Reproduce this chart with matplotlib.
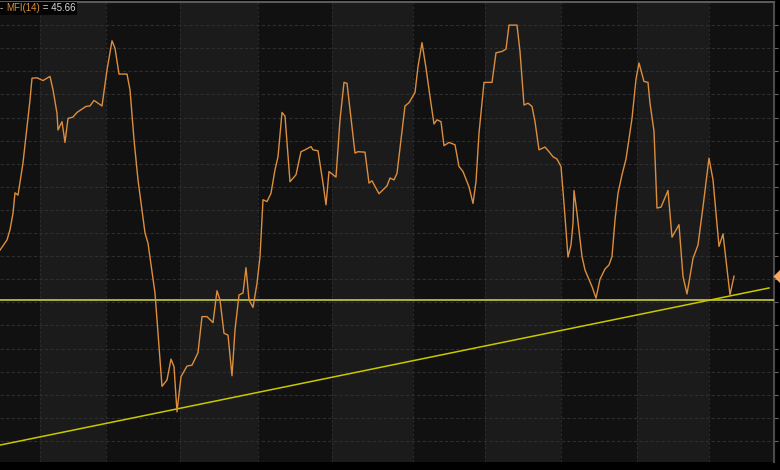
import numpy as np
import matplotlib.pyplot as plt
import matplotlib.transforms as mtransforms

# MFI(14) 走势，x 为交易日位置（无刻度标签）
t = [0, 7, 10, 13, 15, 18, 23, 27, 30, 32, 37, 43, 50, 53, 57, 58, 62, 65, 68, 73,
     77, 86, 90, 94, 102, 107, 112, 115, 119, 127, 130, 134, 138, 145, 148, 155, 162, 167,
     171, 174, 177, 181, 187, 192, 198, 202, 207, 213, 217, 220, 224, 228, 232, 235, 239,
     243, 246, 249, 253, 257, 260, 263, 267, 271, 275, 278, 282, 285, 290, 296, 301, 305,
     311, 313, 318, 323, 326, 329, 336, 340, 344, 347, 355, 358, 365, 369, 372, 379, 387,
     390, 394, 397, 401, 405, 409, 415, 418, 422, 426, 430, 434, 437, 441, 444, 449, 455,
     459, 463, 469, 473, 476, 479, 484, 492, 496, 502, 506, 509, 517, 520, 524, 528, 532,
     535, 539, 545, 549, 553, 557, 561, 564, 568, 571, 573, 574, 577, 582, 585, 592, 596,
     600, 605, 609, 612, 615, 618, 622, 626, 632, 636, 639, 644, 648, 650, 654, 657, 661,
     668, 672, 679, 683, 687, 693, 698, 703, 709, 713, 719, 723, 730, 734]
mfi = [51.3, 53.5, 55.7, 59.3, 63.7, 63.2, 70.2, 78.0, 83.8, 88.5, 88.6, 88.0, 88.9, 86.0,
       80.9, 77.3, 79.1, 74.6, 79.8, 80.1, 81.1, 82.4, 82.5, 83.7, 82.5, 90.3, 96.6, 95.0,
       89.4, 89.4, 86.0, 75.2, 66.5, 55.0, 52.8, 42.0, 21.8, 23.2, 27.7, 26.1, 16.3, 23.9,
       26.2, 26.4, 29.1, 36.9, 36.9, 35.6, 42.5, 40.5, 33.3, 32.9, 24.1, 34.0, 41.6, 42.0,
       47.5, 40.5, 38.9, 44.1, 49.9, 62.2, 61.8, 63.6, 68.7, 71.5, 81.1, 80.3, 66.1, 67.6,
       72.6, 73.0, 73.7, 73.0, 72.8, 65.8, 61.1, 68.3, 67.1, 79.5, 87.6, 87.4, 72.3, 72.6,
       72.5, 65.8, 66.3, 63.5, 65.2, 66.9, 66.5, 67.9, 75.2, 82.5, 83.2, 85.4, 91.0, 96.2,
       90.7, 84.5, 78.6, 79.5, 79.1, 73.9, 74.6, 74.1, 69.4, 68.3, 65.0, 61.4, 66.1, 76.6,
       87.6, 87.6, 94.0, 94.3, 94.8, 100.0, 100.0, 94.3, 82.7, 83.1, 82.4, 79.1, 73.0, 73.6,
       72.6, 71.5, 71.0, 69.4, 61.4, 49.8, 52.4, 57.1, 64.2, 59.3, 49.9, 47.0, 43.4, 40.9,
       45.0, 47.2, 48.1, 49.9, 57.8, 63.6, 67.6, 71.0, 79.8, 88.3, 91.8, 87.8, 87.6, 83.1,
       77.0, 60.4, 60.6, 64.2, 54.1, 56.8, 45.6, 41.8, 49.5, 52.4, 60.7, 71.2, 66.5, 52.1,
       54.8, 41.6, 45.66]
last_value = 45.66

month_edges = [0, 40, 106, 180, 258, 332, 413, 485, 561, 637, 709, 774]
grid_levels = list(range(10, 101, 5))
hline_level = 40.6
trend_t = [0, 769]
trend_v = [9.1, 43.1]

fig = plt.figure(figsize=(7.8, 4.7), dpi=100, facecolor='black')
ax = fig.add_axes([0, 8.3 / 470, 774 / 780, 459.7 / 470])
ax.set_facecolor('#111111')
ax.set_xlim(0, 774)
ax.set_ylim(5.5, 105)

# 交替的月份背景
for i in range(len(month_edges) - 1):
    if i % 2 == 1:
        ax.axvspan(month_edges[i], month_edges[i + 1], color='#1b1b1b', lw=0, zorder=0)
    if i > 0:
        ax.axvline(month_edges[i], color='#2c2c2c', lw=0.8, ls=(0, (2, 2)), zorder=1)

for g in grid_levels:
    ax.axhline(g, color='#2e2e2e', lw=0.8, ls=(0, (3, 2)), zorder=1)

ax.plot(t, mfi, color='#dc8e3e', lw=1.0, zorder=4)
ax.axhline(hline_level, color='#d8d84a', lw=1.1, zorder=3)
ax.plot(trend_t, trend_v, color='#c8c800', lw=1.1, zorder=3)

# 坐标轴样式
for s in ['left', 'bottom']:
    ax.spines[s].set_visible(False)
ax.spines['top'].set_color('#5a5a5a')
ax.spines['top'].set_linewidth(1.5)
ax.spines['right'].set_color('#4a4a4a')
ax.spines['right'].set_linewidth(1.5)
ax.set_xticks([])
ax.yaxis.tick_right()
ax.set_yticks(grid_levels)
ax.set_yticklabels([])
ax.tick_params(axis='y', length=3, width=0.8, color='#6a6a6a', direction='out')

# 右侧当前值标记
trans = mtransforms.blended_transform_factory(ax.transAxes, ax.transData)
ax.plot([1.013], [last_value], marker='D', ms=11, color='#f4a860', mec='none',
        transform=trans, clip_on=False, zorder=6)

# 左上角标签（依次拼接；中间一段最后画，避免背景盖住字）
txt_family = ['Liberation Sans Narrow', 'Liberation Sans', 'DejaVu Sans']
box = dict(boxstyle='square,pad=0.15', fc='#050505', ec='none')
t1 = ax.text(0.0, 0.997, '- ', transform=ax.transAxes, ha='left', va='top', fontsize=7,
             color='#d0d0d0', family=txt_family, bbox=box, zorder=7)
t2 = ax.annotate('MFI(14)', xy=(1, 0), xycoords=t1, ha='left', va='bottom', fontsize=7,
                 color='#dc8e3e', family=txt_family, bbox=box, zorder=9)
ax.annotate(' = 45.66', xy=(1, 0), xycoords=t2, ha='left', va='bottom', fontsize=7,
            color='#d8d8d8', family=txt_family, bbox=box, zorder=8)

fig.savefig('out.png', dpi=100, facecolor='black')
